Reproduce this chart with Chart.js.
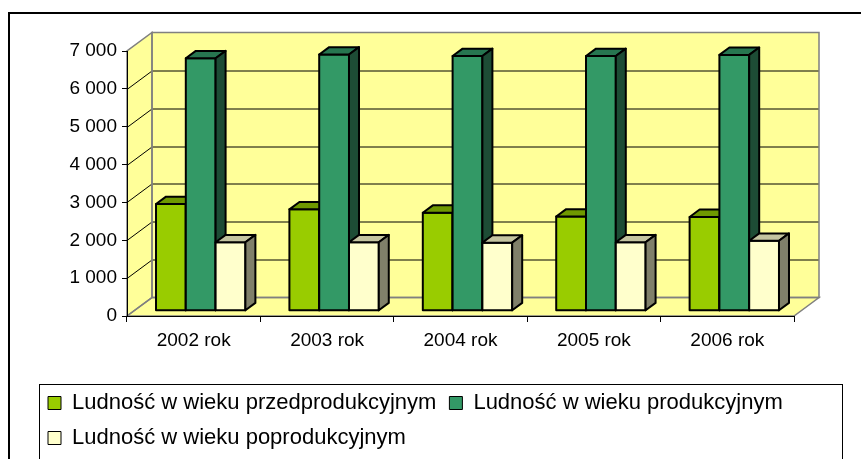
<!DOCTYPE html>
<html>
<head>
<meta charset="utf-8">
<script src="https://cdn.jsdelivr.net/npm/chart.js@4.4.1/dist/chart.umd.min.js"></script>
<style>
  html, body { margin: 0; padding: 0; background: #fff; overflow: hidden; }
</style>
</head>
<body>
<canvas id="chart" width="861" height="459"></canvas>
<script>
/* ---------- dane ---------- */
const years = ["2002 rok", "2003 rok", "2004 rok", "2005 rok", "2006 rok"];
const przedprodukcyjny = [2820, 2680, 2590, 2490, 2480];
const produkcyjny = [6670, 6770, 6730, 6730, 6760];
const poprodukcyjny = [1810, 1810, 1800, 1810, 1850];
const yTicks = [0, 1000, 2000, 3000, 4000, 5000, 6000, 7000];

Chart.defaults.font.family = "'Liberation Sans', Arial, sans-serif";
Chart.defaults.color = "#000";

// glebokosc "3D" scian i slupkow
const DX = 25, DY = -18.5;
const BAR_OFF = 0.28, BAR_DEPTH = 0.4;

function poly(ctx, pts) {
  ctx.beginPath();
  ctx.moveTo(pts[0][0], pts[0][1]);
  for (let i = 1; i < pts.length; i++) ctx.lineTo(pts[i][0], pts[i][1]);
  ctx.closePath();
}

const walls3d = {
  id: "walls3d",
  beforeDraw(chart) {
    const { ctx, chartArea: a, scales: { y } } = chart;
    ctx.save();
    // ramka wykresu
    ctx.strokeStyle = "#000";
    ctx.lineWidth = 2;
    ctx.strokeRect(9, 13, 900, 500);

    const left = [[a.left, a.bottom], [a.left + DX, a.bottom + DY], [a.left + DX, a.top + DY], [a.left, a.top]];
    const back = [[a.left + DX, a.top + DY], [a.right + DX, a.top + DY], [a.right + DX, a.bottom + DY], [a.left + DX, a.bottom + DY]];
    const floor = [[a.left, a.bottom], [a.right, a.bottom], [a.right + DX, a.bottom + DY], [a.left + DX, a.bottom + DY]];
    ctx.fillStyle = "#ffff99";
    [left, back, floor].forEach(p => { poly(ctx, p); ctx.fill(); });

    // linie siatki
    ctx.strokeStyle = "#000";
    ctx.lineWidth = 1;
    yTicks.slice(1, -1).forEach(v => {
      const py = Math.round(y.getPixelForValue(v)) + 0.5;
      ctx.beginPath();
      ctx.moveTo(a.left, py);
      ctx.lineTo(a.left + DX, py + DY);
      ctx.lineTo(a.right + DX, py + DY);
      ctx.stroke();
    });

    ctx.strokeStyle = "#808080";
    ctx.lineWidth = 1.5;
    [left, back, floor].forEach(p => { poly(ctx, p); ctx.stroke(); });
    ctx.restore();
  },
  afterDraw(chart) {
    const { ctx } = chart;
    ctx.save();
    ctx.strokeStyle = "#000";
    ctx.lineWidth = 1;
    ctx.strokeRect(39.5, 384.5, 803, 200);
    ctx.restore();
  }
};

const bars3d = {
  id: "bars3d",
  beforeDatasetsDraw(chart) {
    const { ctx } = chart;
    const metas = chart.getSortedVisibleDatasetMetas().sort((m1, m2) => m1.index - m2.index);
    const ox = DX * BAR_OFF, oy = DY * BAR_OFF, dx = DX * BAR_DEPTH, dy = DY * BAR_DEPTH;
    ctx.save();
    ctx.strokeStyle = "#000";
    ctx.lineWidth = 2;
    ctx.lineJoin = "round";
    for (let i = 0; i < years.length; i++) {
      metas.forEach(meta => {
        const ds = chart.data.datasets[meta.index];
        const { x, y, base, width } = meta.data[i].getProps(["x", "y", "base", "width"], true);
        const x0 = x - width / 2 + ox, x1 = x + width / 2 + ox;
        const t = y + oy, b = base + oy;
        poly(ctx, [[x0, b], [x0, t], [x1, t], [x1, b]]);
        ctx.fillStyle = ds.backgroundColor; ctx.fill(); ctx.stroke();
        poly(ctx, [[x0, t], [x0 + dx, t + dy], [x1 + dx, t + dy], [x1, t]]);
        ctx.fillStyle = ds.topColor; ctx.fill(); ctx.stroke();
        poly(ctx, [[x1, t], [x1 + dx, t + dy], [x1 + dx, b + dy], [x1, b]]);
        ctx.fillStyle = ds.sideColor; ctx.fill(); ctx.stroke();
      });
    }
    ctx.restore();
    return false;
  }
};

new Chart(document.getElementById("chart"), {
  type: "bar",
  data: {
    labels: years,
    datasets: [
      { label: "Ludność w wieku przedprodukcyjnym", data: przedprodukcyjny, yAxisID: "y",
        backgroundColor: "#99cc00", topColor: "#6f9900", sideColor: "#4d6b00", borderColor: "#000", borderWidth: 1 },
      { label: "Ludność w wieku produkcyjnym", data: produkcyjny, yAxisID: "y",
        backgroundColor: "#339966", topColor: "#277650", sideColor: "#1d4c35", borderColor: "#000", borderWidth: 1 },
      { label: "Ludność w wieku poprodukcyjnym", data: poprodukcyjny, yAxisID: "y",
        backgroundColor: "#ffffcc", topColor: "#c4c4a0", sideColor: "#80806a", borderColor: "#000", borderWidth: 1 }
    ]
  },
  options: {
    responsive: false,
    maintainAspectRatio: false,
    animation: false,
    categoryPercentage: 0.67,
    barPercentage: 1,
    layout: { padding: { left: 35, right: 10, top: 51, bottom: 0 } },
    plugins: {
      tooltip: { enabled: false },
      legend: {
        position: "bottom",
        align: "start",
        labels: { boxWidth: 13, boxHeight: 13, padding: 13, color: "#000", font: { size: 22 } }
      }
    },
    scales: {
      x: {
        grid: { drawOnChartArea: false, offset: true, tickLength: 6, color: "#000" },
        border: { color: "#000", width: 1 },
        ticks: { color: "#000", font: { size: 19 }, padding: 7 },
        afterFit(s) { s.height = 63; }
      },
      y: {
        min: 0,
        max: 7000,
        afterBuildTicks(s) { s.ticks = yTicks.map(v => ({ value: v })); },
        ticks: {
          color: "#000",
          font: { size: 19 },
          padding: 5,
          callback: v => String(v).replace(/\B(?=(\d{3})+(?!\d))/g, " ")
        },
        grid: { drawOnChartArea: false, tickLength: 5, color: "#000" },
        border: { color: "#000", width: 1 },
        afterFit(s) { s.width = 92; }
      },
      y2: {
        position: "right",
        grid: { display: false },
        ticks: { display: false },
        border: { display: false },
        afterFit(s) { s.width = 57; }
      }
    }
  },
  plugins: [walls3d, bars3d]
});
</script>
</body>
</html>
